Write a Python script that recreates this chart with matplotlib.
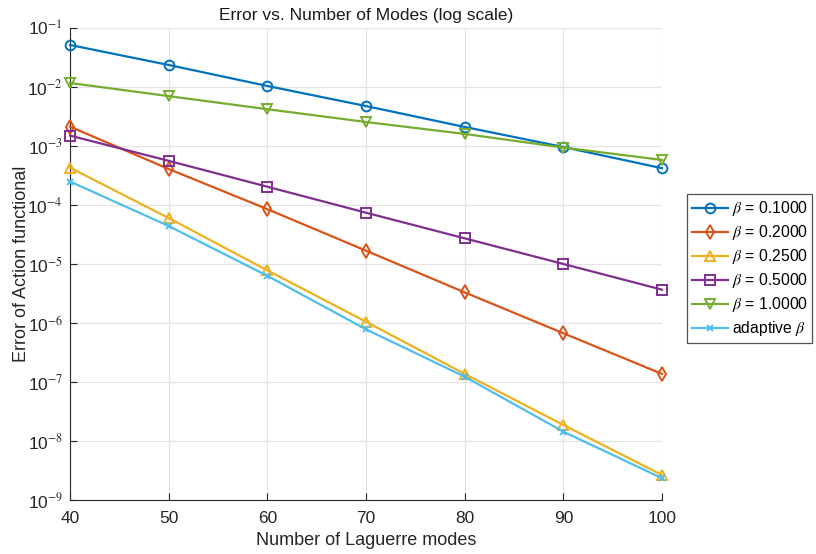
import numpy as np
import matplotlib
matplotlib.use('Agg')
import matplotlib.pyplot as plt

plt.rcParams['font.family'] = ['Liberation Sans', 'DejaVu Sans']
plt.rcParams['mathtext.fontset'] = 'stix'

modes = [40, 50, 60, 70, 80, 90, 100]

err_b01 = [5.15e-2, 2.36e-2, 1.04e-2, 4.75e-3, 2.1e-3, 9.6e-4, 4.2e-4]
err_b02 = [2.13e-3, 4.07e-4, 8.5e-5, 1.68e-5, 3.3e-6, 6.7e-7, 1.37e-7]
err_b025 = [4.3e-4, 6.0e-5, 7.8e-6, 1.05e-6, 1.37e-7, 1.87e-8, 2.65e-9]
err_b05 = [1.5e-3, 5.6e-4, 2.04e-4, 7.4e-5, 2.72e-5, 1.0e-5, 3.67e-6]
err_b1 = [1.17e-2, 7.0e-3, 4.2e-3, 2.55e-3, 1.6e-3, 9.4e-4, 5.8e-4]
err_adapt = [2.5e-4, 4.4e-5, 6.3e-6, 7.8e-7, 1.23e-7, 1.44e-8, 2.34e-9]

series = [
    (err_b01, r'$\beta$ = 0.1000', '#0072BD', 'o'),
    (err_b02, r'$\beta$ = 0.2000', '#D95319', 'd'),
    (err_b025, r'$\beta$ = 0.2500', '#EDB120', '^'),
    (err_b05, r'$\beta$ = 0.5000', '#7E2F8E', 's'),
    (err_b1, r'$\beta$ = 1.0000', '#77AC30', 'v'),
    (err_adapt, r'adaptive $\beta$', '#4DBEEE', 'x'),
]

fig = plt.figure(figsize=(8.16, 5.54), dpi=100)
ax = fig.add_axes([0.0858, 0.0975, 0.7255, 0.852])

for vals, lab, col, mk in series:
    ms = 7 if mk != 'x' else 5
    ax.semilogy(modes, vals, color=col, marker=mk, markersize=ms, linewidth=1.6,
                markerfacecolor='none', markeredgewidth=1.4, label=lab,
                clip_on=False, zorder=3)

ax.set_xlim(40, 100)
ax.set_ylim(1e-9, 1e-1)
ax.set_xticks(modes)
ax.set_yticks([10.0**k for k in range(-9, 0)])
ax.set_yticklabels([r'10$^{%d}$' % k for k in range(-9, 0)])
ax.minorticks_off()
ax.grid(True, color='#e3e3e3', linewidth=0.9)
ax.set_axisbelow(True)
for s in ['top', 'right']:
    ax.spines[s].set_visible(False)
for s in ['left', 'bottom']:
    ax.spines[s].set_color('#262626')
ax.tick_params(direction='in', length=5, colors='#262626', labelsize=12.5)
ax.tick_params(axis='x', pad=8)
ax.tick_params(axis='y', pad=5)

ax.set_title('Error vs. Number of Modes (log scale)', fontsize=12.5, color='#1a1a1a')
ax.set_xlabel('Number of Laguerre modes', fontsize=13, color='#262626')
ax.set_ylabel('Error of Action functional', fontsize=13, color='#262626', labelpad=-2)

leg = ax.legend(loc='center left', bbox_to_anchor=(1.042, 0.49), fontsize=11.3,
                frameon=True, fancybox=False, edgecolor='#262626',
                handlelength=2.3, borderpad=0.3, labelspacing=0.32,
                handletextpad=0.25, borderaxespad=0.0)
leg.get_frame().set_linewidth(0.9)

fig.savefig('out.png', dpi=100)
